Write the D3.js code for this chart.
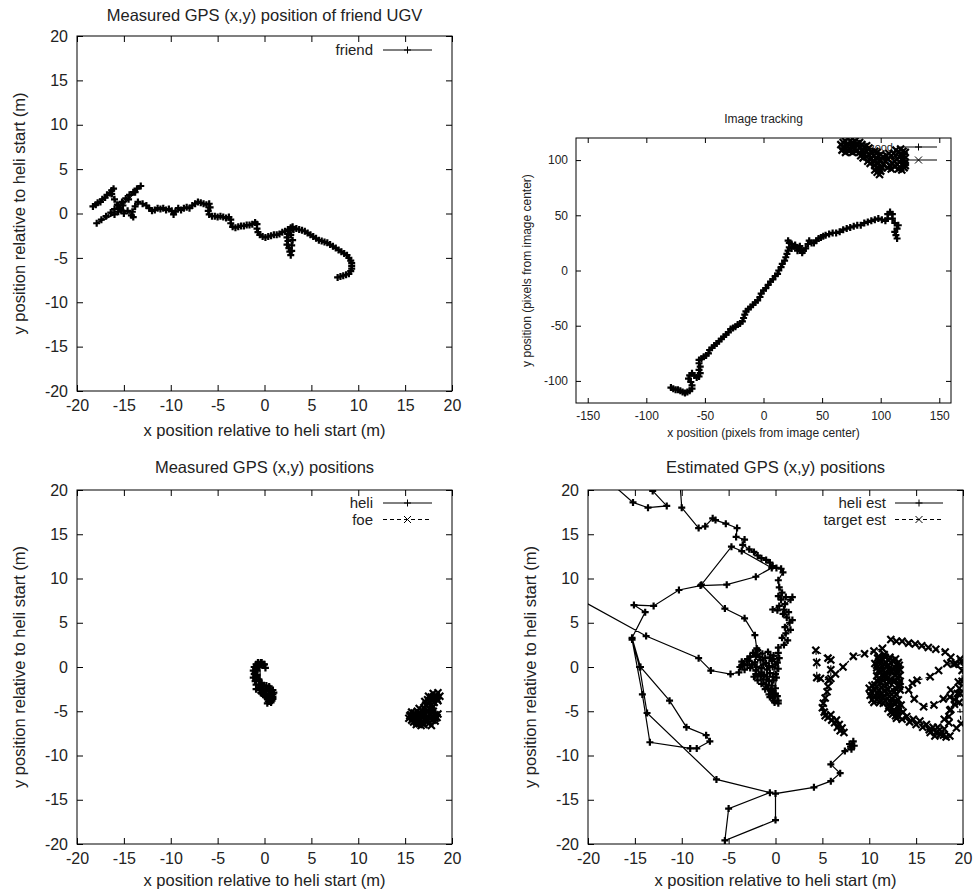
<!DOCTYPE html>
<html>
<head>
<meta charset="utf-8">
<script src="https://cdn.jsdelivr.net/npm/d3@7"></script>
<style>
body { margin: 0; background: #fff; }
svg { display: block; }
text { font-family: "Liberation Sans", Arial, Helvetica, sans-serif; fill: #222; }
</style>
</head>
<body>
<svg id="chart" width="973" height="896"></svg>
<script>
// ---- data ----
const gpsTicks = [-20, -15, -10, -5, 0, 5, 10, 15, 20];
const pixelXTicks = [-150, -100, -50, 0, 50, 100, 150];
const pixelYTicks = [-100, -50, 0, 50, 100];

// Measured GPS position of friend UGV
const friend = [
    [-18.3,0.8],[-18.0,1.0],[-17.8,1.2],[-17.5,1.3],[-17.3,1.6],[-17.0,1.8],[-16.8,2.1],[-16.5,2.3],[-16.3,2.6],[-16.1,2.8],
    [-16.3,2.2],[-16.0,1.6],[-15.7,1.0],[-15.4,0.6],[-15.6,0.2],[-16.0,-0.1],
    [-17.9,-1.1],[-17.4,-0.7],[-16.9,-0.3],[-16.4,0.1],[-16.0,0.5],[-15.6,0.9],[-15.2,1.3],[-14.8,1.7],[-14.4,2.1],[-14.0,2.4],[-13.6,2.8],[-13.2,3.1],
    [-13.8,2.4],[-14.5,1.6],[-15.1,0.9],[-15.3,0.4],[-15.0,0.0],[-14.6,0.3],[-14.2,-0.2],[-14.0,-0.4],[-14.1,0.2],[-13.8,0.8],[-13.5,1.3],
    [-13.0,1.1],[-12.6,0.9],[-12.3,0.6],[-12.0,0.3],[-11.7,0.4],[-11.4,0.6],[-11.1,0.5],[-10.8,0.6],[-10.5,0.4],[-10.2,0.5],[-9.9,0.3],
    [-9.7,-0.1],[-9.5,0.2],[-9.2,0.6],[-8.9,0.4],[-8.6,0.6],[-8.3,0.7],[-8.0,0.6],[-7.7,0.9],[-7.4,1.1],[-7.1,1.3],[-6.8,1.2],[-6.5,1.1],
    [-6.2,1.0],[-5.9,1.1],[-5.8,0.7],[-6.0,0.3],[-5.9,-0.1],[-5.6,-0.3],[-5.3,-0.3],[-5.0,-0.4],[-4.7,-0.3],[-4.4,-0.4],[-4.1,-0.5],
    [-3.8,-0.4],[-3.6,-0.7],[-3.6,-1.1],[-3.4,-1.5],[-3.1,-1.6],[-2.8,-1.5],[-2.5,-1.4],[-2.2,-1.4],[-1.9,-1.3],[-1.6,-1.3],[-1.3,-1.2],
    [-1.0,-1.0],[-0.8,-1.2],[-0.8,-1.7],[-0.7,-2.1],[-0.5,-2.4],[-0.2,-2.6],[0.1,-2.7],[0.4,-2.6],[0.7,-2.5],[1.0,-2.4],[1.3,-2.4],
    [1.6,-2.3],[1.9,-2.1],[2.2,-2.0],[2.5,-1.8],[2.8,-1.6],[3.0,-1.5],[2.7,-1.9],[2.5,-2.3],[2.4,-2.7],[2.5,-3.1],[2.4,-3.5],[2.6,-3.9],
    [2.7,-4.3],[2.8,-4.7],[2.9,-4.2],[2.9,-3.6],[3.0,-3.0],[2.8,-2.4],[3.1,-1.8],[3.4,-1.7],[3.7,-1.8],[4.0,-1.9],[4.3,-2.0],[4.6,-2.2],
    [4.9,-2.4],[5.2,-2.6],[5.5,-2.8],[5.8,-3.0],[6.1,-3.1],[6.4,-3.2],[6.7,-3.3],[7.0,-3.5],[7.3,-3.7],[7.6,-3.9],[7.9,-4.1],[8.2,-4.3],
    [8.5,-4.5],[8.8,-4.7],[9.0,-5.0],[9.2,-5.3],[9.3,-5.6],[9.3,-5.9],[9.3,-6.2],[9.2,-6.5],[9.0,-6.8],[8.7,-6.9],[8.4,-7.0],[8.1,-7.1],[7.8,-7.2]
];

// Image tracking, pixels from image centre
const trackA = [
    [-79,-106],[-77,-107],[-75,-108],[-73,-108],[-71,-109],[-69,-110],[-67,-111],[-65,-110],[-63,-109],[-61,-107],[-61,-104],[-62,-101],
    [-64,-98],[-63,-95],[-61,-93],[-59,-95],[-57,-97],[-55,-96],[-54,-93],[-55,-90],[-54,-87],[-55,-84],[-55,-81],[-53,-80],[-51,-78],
    [-49,-77],[-47,-75],[-46,-72],[-44,-70],[-42,-68],[-40,-66],[-38,-64],[-36,-62],[-34,-60],[-32,-58],[-30,-56],[-28,-53],[-26,-52],
    [-24,-51],[-22,-49],[-20,-48],[-18,-46],[-17,-43],[-16,-40],[-15,-37],[-13,-35],[-11,-33],[-9,-31],[-7,-29],[-5,-27],[-3,-24],
    [-2,-21],[0,-18],[2,-16],[4,-13],[6,-10],[8,-8],[10,-5],[12,-3],[13,0],[15,3],[16,6],[18,9],[19,12],[20,15],[21,18],[22,21],
    [22,25],[21,27],[24,24],[26,22],[24,20],[27,23],[29,18],[28,21],[31,22],[30,20],[33,16],[32,19],[34,18],[36,20],[38,24],[39,27],
    [41,25],[43,25],[45,27],[47,29],[49,30],[51,31],[53,32],[56,33],[59,34],[62,34],[65,35],[68,37],[71,38],[74,39],[77,40],[80,41],
    [83,41],[86,43],[89,44],[92,45],[95,46],[98,47],[101,46],[104,45],[106,47],[106,51],[108,53],[110,51],[110,47],[112,43],[115,41],
    [114,38],[112,35],[113,32],[114,29]
];
const trackB = [
    [66,114],[68,116],[70,117],[72,115],[74,117],[76,116],[78,117],[80,115],[82,116],[84,114],[82,111],[80,113],[78,111],[76,113],
    [74,110],[72,112],[70,110],[68,112],[67,109],[70,107],[73,108],[76,107],[79,108],[82,107],[85,109],[86,112],[88,113],[90,111],
    [88,108],[86,105],[83,104],[85,102],[88,103],[90,105],[92,107],[94,104],[92,101],[89,99],[91,97],[94,99],[96,102],[98,104],
    [97,107],[95,108],[100,105],[102,103],[100,100],[98,97],[95,95],[97,93],[95,91],[97,89],[99,87],[100,90],[98,92],[101,93],
    [102,96],[104,99],[106,101],[105,104],[107,106],[109,104],[111,106],[113,109],[115,107],[117,110],[119,108],[121,107],[120,104],
    [118,105],[116,103],[114,101],[112,99],[110,97],[108,95],[106,93],[109,92],[112,94],[114,96],[116,98],[118,100],[120,101],
    [121,98],[119,96],[117,93],[115,92],[118,91],[120,93],[121,95]
];

// Measured GPS positions
const heli = [
    [0.1,-0.1],[-0.1,0.3],[-0.4,0.5],[-0.7,0.5],[-0.9,0.3],[-1.1,0.0],[-1.2,-0.4],[-1.1,-0.8],[-1.2,-1.2],[-1.0,-1.6],[-0.9,-2.0],
    [-0.6,-2.3],[-0.9,-2.5],[-0.5,-2.6],[-0.2,-2.4],[0.1,-2.7],[0.4,-2.5],[0.7,-2.8],[0.9,-3.1],[0.6,-3.3],[0.9,-3.6],[0.6,-3.9],
    [0.3,-3.6],[0.0,-3.2],[-0.3,-3.0],[0.1,-3.4],[0.4,-3.9],[0.7,-4.0],[0.9,-3.4],[1.0,-2.9],[0.6,-2.4],[0.2,-2.1],[-0.3,-1.8],
    [-0.6,-1.4],[-0.8,-0.9],[-0.8,-0.4],[-0.6,0.0],[-0.3,0.2],[-0.5,0.3],
    [-0.4,-2.9],[0.2,-3.0],[0.5,-3.1],[0.8,-3.8],[0.3,-4.1],[-0.2,-2.8],[0.5,-2.2],[0.9,-2.6],[-0.1,-2.2],[-0.5,-2.0],
    [-0.9,-1.2],[-1.0,-0.6],[-0.9,-0.1],[-0.3,0.5],[0.0,0.3]
];
const foe = [
    [18.5,-2.9],[18.3,-3.2],[18.0,-3.0],[17.8,-3.4],[17.5,-3.3],[17.4,-3.7],[17.1,-3.9],[17.2,-4.3],[17.0,-4.6],[16.8,-4.9],[16.5,-4.7],
    [16.3,-5.0],[16.0,-5.2],[15.7,-5.1],[15.5,-5.5],[15.4,-5.8],[15.7,-6.0],[16.0,-5.8],[16.2,-6.2],[16.5,-6.4],[16.8,-6.2],[17.0,-6.5],
    [17.3,-6.2],[17.6,-6.3],[17.9,-6.0],[18.2,-6.1],[18.4,-5.7],[18.2,-5.4],[17.9,-5.6],[17.6,-5.3],[17.3,-5.6],[17.0,-5.3],[16.7,-5.6],
    [16.4,-5.4],[16.2,-5.7],[16.6,-5.9],[17.2,-5.9],[17.7,-4.8],[18.0,-5.0],[17.8,-4.3],[18.1,-4.0],[18.4,-3.6],[18.7,-3.3],[18.5,-3.8],
    [17.9,-4.6],[17.4,-4.9],[16.9,-5.1],[16.1,-5.5],[15.8,-5.7],[16.3,-6.0],[16.7,-6.6],[17.1,-6.0],
    [15.6,-5.4],[15.9,-6.2],[16.2,-6.5],[16.5,-6.1],[16.9,-6.4],[17.4,-6.0],[17.8,-6.6],[18.2,-5.8],[18.5,-5.3],[17.9,-5.2],
    [17.5,-5.0],[16.9,-5.7],[16.5,-5.2],[16.0,-5.5],[17.3,-4.4],[17.6,-4.0],[17.9,-3.8],[18.3,-3.4],[18.0,-3.5]
];

// Estimated GPS positions (null = break in the track)
const heliEst = [
    [0.3,-4.1],[-0.1,-4.0],[0.3,-3.8],[0.2,-3.3],[-0.3,-3.5],[-0.7,-3.1],[-0.2,-3.0],[0.0,-2.4],[-0.5,-2.6],[-1.1,-2.5],[-1.5,-1.9],
    [-1.0,-2.0],[-0.4,-2.1],[-0.2,-1.5],[-0.7,-1.6],[-1.3,-1.4],[-1.9,-1.5],[-2.3,-1.1],[-1.8,-0.8],[-1.2,-0.9],[-0.6,-0.7],[0.0,-0.8],
    [0.3,-0.2],[-0.3,0.0],[-0.9,-0.3],[-1.5,-0.1],[-2.1,-0.4],[-2.7,-0.1],[-3.3,-0.3],[-3.8,0.0],[-3.4,0.3],[-2.8,0.7],[-2.2,0.5],
    [-1.6,0.8],[-1.0,0.4],[-0.4,0.7],[0.2,0.5],[0.4,1.0],[-0.2,1.3],[-0.8,1.7],[-1.4,1.5],[-1.9,1.9],[-2.4,1.6],[-1.7,1.1],[-0.6,1.1],
    [-0.3,0.9],[-1.1,1.0],[-2.0,1.4],[-2.7,1.2],[-3.6,0.6],[-3.0,0.2],[-2.5,0.3],[-2.0,0.0],[-1.3,0.3],[-0.7,0.1],[0.0,0.3],
    [-0.3,-1.1],[-0.9,-1.1],[-1.5,-0.6],[-2.1,-0.8],[-1.6,-1.0],[-0.8,-2.4],[-0.3,-2.8],[-0.6,-3.4],[0.0,-3.0],[-0.2,-3.8],
    [0.1,-1.2],[0.3,1.6],[0.3,2.2],[0.9,2.5],[1.3,3.0],[0.7,3.3],[1.1,3.8],[1.6,4.2],[1.0,4.5],[1.5,5.0],[1.8,5.3],[1.2,5.6],[0.8,6.0],[1.4,6.2],
    [0.9,6.5],[0.2,6.4],[-0.3,6.5],[0.4,6.9],[1.0,7.1],[1.6,7.6],[1.8,7.9],[1.1,7.9],[0.6,7.6],[0.3,8.0],[0.7,8.4],[0.4,9.0],[0.3,9.8],
    [0.8,10.7],[0.6,11.1],[0.1,11.2],[-0.3,11.4],[-0.6,11.8],[-1.0,12.1],[-1.5,12.3],[-1.9,12.6],[-2.3,13.0],[-2.8,13.3],[-3.5,13.8],
    [-3.3,14.4],[-4.2,14.7],[-4.1,15.7],[-5.3,16.2],[-6.4,16.6],[-6.7,16.8],[-7.5,15.9],[-8.2,15.7],[-10.0,18.0],[-10.2,21.0],
    null,
    [-12.6,21.0],[-13.1,19.9],[-11.6,18.2],[-13.6,18.0],[-15.2,18.6],[-17.8,21.0],
    null,
    [-21.0,7.7],[-13.8,3.5],[-8.2,1.0],[-6.9,-0.4],[-4.8,-0.8],[-3.9,-0.6],[-3.6,0.2],[-3.0,0.9],[-2.1,1.2],[-2.0,2.1],[-2.2,3.6],
    [-3.3,5.5],[-5.4,6.6],[-7.9,9.3],[-4.7,13.6],[-3.6,13.1],[-0.4,11.2],[-2.1,10.2],[-5.2,9.3],[-8.0,9.2],[-10.3,8.7],[-13.0,6.9],
    [-15.1,7.0],[-13.9,6.2],[-15.3,3.3],[-14.4,0.0],[-11.3,-3.8],[-9.5,-6.8],[-7.4,-7.7],[-7.0,-8.4],[-8.4,-9.2],[-9.1,-9.2],
    [-13.4,-8.5],[-14.2,-3.1],[-15.3,3.1],[-14.5,0.0],[-13.7,-5.2],[-6.3,-12.7],[-0.6,-14.2],[-5.0,-16.0],[-5.4,-19.6],[0.0,-17.3],
    [0.0,-14.3],[4.1,-13.6],[5.9,-12.9],[6.9,-12.0],[5.9,-11.0],[7.4,-9.5],[8.0,-9.0],[8.3,-8.4],[7.9,-8.7],[8.4,-8.9],[8.1,-9.3]
];
const targetEst = [
    [7.3,-7.4],[6.9,-7.2],[7.1,-6.9],[6.6,-6.8],[6.8,-6.5],[6.3,-6.3],[6.5,-6.0],[6.0,-6.0],[5.6,-5.7],[5.9,-5.4],[5.3,-5.5],[5.2,-5.1],
    [5.0,-4.6],[5.1,-4.1],[5.3,-3.5],[5.5,-2.8],[5.6,-2.2],[5.7,-1.5],[5.9,-1.3],[5.9,-0.3],[5.9,0.8],[5.6,1.0],[4.3,1.9],[4.4,0.5],
    [4.4,-1.2],[4.8,-1.3],[5.7,-1.5],[6.4,-0.8],[7.2,0.0],[8.3,1.2],[9.5,1.5],[10.5,1.8],[11.4,2.1],[12.3,3.1],[12.9,2.9],[13.5,2.9],
    [14.2,2.7],[14.9,2.6],[15.6,2.4],[16.3,2.2],[17.1,2.0],[18.1,1.7],[18.7,1.1],[19.2,0.4],[19.7,0.9],[19.9,-0.4],[19.9,-1.6],
    [19.6,-2.4],[19.4,-3.0],[19.1,-3.7],[18.7,-4.8],[18.5,-5.6],[18.5,-6.3],[18.0,-7.0],[17.6,-7.6],[17.0,-7.8],[16.5,-7.4],
    [17.3,-6.8],[18.0,-5.9],[18.6,-4.9],[19.1,-4.2],[19.7,-3.0],[18.6,-3.4],[17.9,-3.6],[16.9,-4.3],[15.8,-4.5],[14.8,-3.6],[14.2,-2.6],
    [14.6,-1.8],[15.1,-1.5],[16.5,-1.1],[17.4,-0.4],[18.3,0.4],[19.0,0.3],[19.8,0.6],[20.3,-1.0],[19.5,-1.7],[18.7,-2.6],[19.6,-4.0],
    [19.8,-6.4],[19.3,-6.9],
    [18.6,-7.8],[18.2,-7.9],[17.6,-7.6],[17.9,-7.7],[17.5,-7.1],[17.1,-7.4],[16.8,-6.8],[16.4,-7.1],[16.1,-6.5],[15.7,-6.8],[15.4,-6.1],
    [15.0,-6.5],[14.7,-5.9],[14.3,-6.2],[14.0,-5.6],[13.5,-5.9],[12.9,-5.8],[12.5,-5.3],[13.0,-5.4],[13.6,-5.1],[13.2,-4.7],[12.6,-4.9],
    [12.0,-4.7],[11.5,-4.1],[12.1,-4.4],[12.7,-4.1],[13.4,-4.3],[13.1,-3.7],[12.4,-3.6],[11.7,-3.8],[11.0,-3.5],[10.3,-3.7],[10.1,-3.2],
    [10.9,-3.0],[11.6,-3.2],[12.2,-2.9],[12.9,-3.1],[13.3,-2.6],[12.8,-2.4],[12.0,-2.5],[11.3,-2.3],[10.6,-2.6],[10.0,-2.4],[10.6,-2.0],
    [11.2,-1.8],[11.9,-2.0],[12.6,-1.7],[13.2,-1.9],[13.0,-1.2],[12.3,-1.4],[11.6,-1.1],[11.0,-1.3],[11.1,-0.6],[11.7,-0.8],[12.4,-0.5],
    [13.0,-0.7],[13.3,-0.3],[12.7,0.0],[12.1,-0.2],[11.4,0.1],[10.8,-0.1],[10.6,0.4],[11.1,0.7],[11.8,0.5],[12.5,0.7],[13.1,0.5],
    [12.8,0.9],[12.2,1.1],[11.6,1.4],[11.0,1.2],
    [10.9,1.0],[10.8,0.2],[11.0,-0.4],[10.8,-1.0],[10.9,-1.6],[11.5,-1.5],[11.4,-0.9],[11.5,-0.3],[11.6,0.3],[11.4,0.9],[11.7,1.1],
    [12.1,0.8],[12.0,0.2],[12.2,-0.5],[12.0,-1.2],[12.1,-1.7],[12.7,-1.5],[12.8,-0.9],[12.6,-0.3],[12.9,0.3],[12.6,0.6],[13.2,0.2],
    [13.0,-0.4],[13.2,-1.0],[13.3,-1.6],[13.2,-2.2],[12.7,-2.8],[12.9,-3.9],[13.0,-4.5],[13.1,-5.0],[12.8,-5.5],[12.3,-5.1],
    [12.4,-4.6],[12.3,-4.0],[12.2,-3.3],[11.5,-3.4],[11.6,-2.7],[11.0,-2.6],[11.0,-3.2],[11.1,-4.0],[10.5,-4.0],[10.5,-3.4],
    [10.2,-2.8],[10.3,-2.1]
];

// ---- drawing ----
const svg = d3.select('#chart');
const MK = 3.5; // half size of point markers

function markerPath(type, px, py) {
    if (type === 'plus') return `M${px - MK},${py}H${px + MK}M${px},${py - MK}V${py + MK}`;
    return `M${px - MK},${py - MK}L${px + MK},${py + MK}M${px - MK},${py + MK}L${px + MK},${py - MK}`;
}

function drawPanel(p, idx) {
    const g = svg.append('g');
    const x = d3.scaleLinear().domain(p.xDomain).range([p.left, p.right]);
    const y = d3.scaleLinear().domain(p.yDomain).range([p.bottom, p.top]);
    const fmt = d => String(d);

    // axes: ticks inside on all four sides, labels bottom/left
    const axes = [
        [d3.axisBottom(x).tickValues(p.xTicks).tickFormat(fmt), `translate(0,${p.bottom})`],
        [d3.axisTop(x).tickValues(p.xTicks).tickFormat(''), `translate(0,${p.top})`],
        [d3.axisLeft(y).tickValues(p.yTicks).tickFormat(fmt), `translate(${p.left},0)`],
        [d3.axisRight(y).tickValues(p.yTicks).tickFormat(''), `translate(${p.right},0)`]
    ];
    axes.forEach(([ax, tr]) => {
        const a = g.append('g').attr('transform', tr)
            .call(ax.tickSize(-p.tickLen).tickSizeOuter(0).tickPadding(p.pad));
        a.select('.domain').remove();
        a.selectAll('line').attr('stroke', '#000');
        a.selectAll('text').style('font-size', p.tickFont + 'px')
            .style('font-family', '"Liberation Sans", Arial, sans-serif').attr('fill', '#222');
    });

    g.append('rect')
        .attr('x', p.left).attr('y', p.top)
        .attr('width', p.right - p.left).attr('height', p.bottom - p.top)
        .attr('fill', 'none').attr('stroke', '#000').attr('stroke-width', 1);

    // titles
    g.append('text').attr('x', (p.left + p.right) / 2).attr('y', p.titleY)
        .attr('text-anchor', 'middle').style('font-size', p.labelFont + 'px').text(p.title);
    g.append('text').attr('x', (p.left + p.right) / 2).attr('y', p.xLabelY)
        .attr('text-anchor', 'middle').style('font-size', p.labelFont + 'px').text(p.xLabel);
    g.append('text')
        .attr('transform', `translate(${p.yLabelX},${(p.top + p.bottom) / 2}) rotate(-90)`)
        .attr('text-anchor', 'middle').style('font-size', p.labelFont + 'px').text(p.yLabel);

    // key
    p.series.forEach((s, i) => {
        const ky = p.keyY + i * p.keyGap;
        g.append('text').attr('x', p.keyText).attr('y', ky).attr('dy', '0.35em')
            .attr('text-anchor', 'end').style('font-size', p.keyFont + 'px').text(s.name);
        g.append('line').attr('x1', p.keyX1).attr('x2', p.keyX2).attr('y1', ky).attr('y2', ky)
            .attr('stroke', '#000').attr('stroke-dasharray', s.dash ? '4,3' : null);
        g.append('path').attr('d', markerPath(s.marker, (p.keyX1 + p.keyX2) / 2, ky))
            .attr('stroke', '#000').attr('fill', 'none');
    });

    // data, clipped to the frame
    const clipId = 'clip' + idx;
    g.append('clipPath').attr('id', clipId).append('rect')
        .attr('x', p.left).attr('y', p.top)
        .attr('width', p.right - p.left).attr('height', p.bottom - p.top);
    const plot = g.append('g').attr('clip-path', `url(#${clipId})`);
    const line = d3.line().defined(d => d !== null).x(d => x(d[0])).y(d => y(d[1]));

    p.series.forEach(s => {
        plot.append('path').datum(s.data).attr('d', line)
            .attr('fill', 'none').attr('stroke', '#000').attr('stroke-width', 1.2)
            .attr('stroke-dasharray', s.dash ? '4,3' : null);
        plot.append('g').selectAll('path')
            .data(s.data.filter(d => d !== null))
            .join('path')
            .attr('d', d => markerPath(s.marker, x(d[0]), y(d[1])))
            .attr('stroke', '#000').attr('stroke-width', 2.2).attr('fill', 'none');
    });
}

const gpsXLabel = 'x position relative to heli start (m)';
const gpsYLabel = 'y position relative to heli start (m)';

const panels = [
    {
        title: 'Measured GPS (x,y) position of friend UGV', xLabel: gpsXLabel, yLabel: gpsYLabel,
        left: 77, right: 452, top: 36, bottom: 391,
        xDomain: [-20, 20], yDomain: [-20, 20], xTicks: gpsTicks, yTicks: gpsTicks,
        tickLen: 6, pad: 9, tickFont: 16, labelFont: 16.5, keyFont: 15,
        titleY: 21, xLabelY: 436, yLabelX: 25,
        keyY: 50, keyGap: 16.5, keyText: 373, keyX1: 383, keyX2: 432,
        series: [{ name: 'friend', data: friend, marker: 'plus', dash: false }]
    },
    {
        title: 'Image tracking', xLabel: 'x position (pixels from image center)', yLabel: 'y position (pixels from image center)',
        left: 576, right: 951, top: 138, bottom: 403,
        xDomain: [-160, 160], yDomain: [-120, 120], xTicks: pixelXTicks, yTicks: pixelYTicks,
        tickLen: 5, pad: 8, tickFont: 12, labelFont: 12, keyFont: 11,
        titleY: 123, xLabelY: 437, yLabelX: 531,
        keyY: 147, keyGap: 13, keyText: 893, keyX1: 900, keyX2: 937,
        series: [
            { name: 'good', data: trackA, marker: 'plus', dash: false },
            { name: 'bad', data: trackB, marker: 'cross', dash: false }
        ]
    },
    {
        title: 'Measured GPS (x,y) positions', xLabel: gpsXLabel, yLabel: gpsYLabel,
        left: 77, right: 452, top: 490, bottom: 844,
        xDomain: [-20, 20], yDomain: [-20, 20], xTicks: gpsTicks, yTicks: gpsTicks,
        tickLen: 6, pad: 9, tickFont: 16, labelFont: 16.5, keyFont: 15,
        titleY: 473, xLabelY: 886, yLabelX: 25,
        keyY: 503, keyGap: 16.5, keyText: 373, keyX1: 383, keyX2: 432,
        series: [
            { name: 'heli', data: heli, marker: 'plus', dash: false },
            { name: 'foe', data: foe, marker: 'cross', dash: true }
        ]
    },
    {
        title: 'Estimated GPS (x,y) positions', xLabel: gpsXLabel, yLabel: gpsYLabel,
        left: 588, right: 963, top: 490, bottom: 844,
        xDomain: [-20, 20], yDomain: [-20, 20], xTicks: gpsTicks, yTicks: gpsTicks,
        tickLen: 6, pad: 9, tickFont: 16, labelFont: 16.5, keyFont: 15,
        titleY: 473, xLabelY: 886, yLabelX: 536,
        keyY: 503, keyGap: 16.5, keyText: 886, keyX1: 895, keyX2: 943,
        series: [
            { name: 'heli est', data: heliEst, marker: 'plus', dash: false },
            { name: 'target est', data: targetEst, marker: 'cross', dash: true }
        ]
    }
];

panels.forEach(drawPanel);
</script>
</body>
</html>
